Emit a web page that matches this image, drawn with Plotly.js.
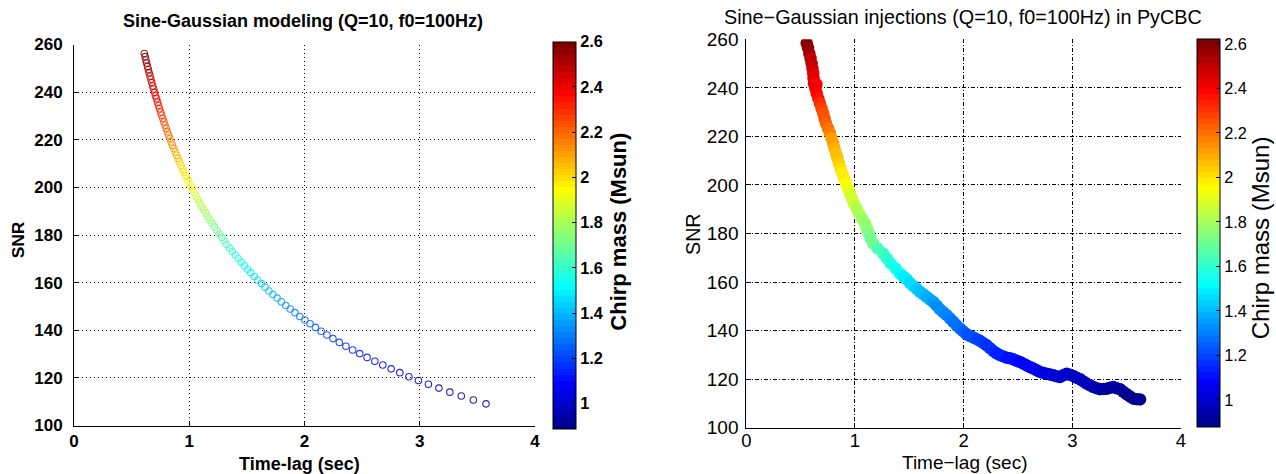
<!DOCTYPE html>
<html><head><meta charset="utf-8">
<script src="https://cdn.plot.ly/plotly-3.0.1.min.js"></script>
<style>html,body{margin:0;padding:0;background:#fff;}#chart{width:1276px;height:474px;}</style>
</head><body><div id="chart"></div>
<script>
// ---------------- data ----------------
const leftChirpMass = [0.900,0.917,0.934,0.951,0.968,0.985,1.002,1.019,1.036,1.053,1.070,1.087,1.104,1.121,1.138,1.155,1.172,1.189,1.206,1.223,1.240,1.257,1.274,1.291,1.308,1.325,1.342,1.359,1.376,1.393,1.410,1.427,1.444,1.461,1.478,1.495,1.512,1.529,1.546,1.563,1.580,1.597,1.614,1.631,1.648,1.665,1.682,1.699,1.716,1.733,1.750,1.767,1.784,1.801,1.818,1.835,1.852,1.869,1.886,1.903,1.920,1.937,1.954,1.971,1.988,2.005,2.022,2.039,2.056,2.073,2.090,2.107,2.124,2.141,2.158,2.175,2.192,2.209,2.226,2.243,2.260,2.277,2.294,2.311,2.328,2.345,2.362,2.379,2.396,2.413,2.430,2.447,2.464,2.481,2.498,2.515,2.532,2.549,2.566,2.583,2.600];
const leftTimeLag = [3.575,3.465,3.360,3.261,3.166,3.075,2.989,2.906,2.827,2.752,2.679,2.610,2.543,2.479,2.418,2.359,2.302,2.247,2.195,2.144,2.095,2.048,2.003,1.959,1.917,1.876,1.837,1.799,1.762,1.726,1.691,1.658,1.626,1.594,1.564,1.534,1.506,1.478,1.451,1.425,1.399,1.374,1.350,1.327,1.304,1.282,1.261,1.240,1.219,1.199,1.180,1.161,1.143,1.125,1.107,1.090,1.073,1.057,1.042,1.026,1.011,0.996,0.982,0.968,0.954,0.941,0.928,0.915,0.902,0.890,0.878,0.866,0.854,0.843,0.832,0.821,0.811,0.800,0.790,0.780,0.771,0.761,0.752,0.742,0.733,0.725,0.716,0.707,0.699,0.691,0.683,0.675,0.667,0.660,0.652,0.645,0.638,0.630,0.624,0.617,0.610];
const leftSNR = [109.1,110.7,112.4,114.0,115.7,117.3,118.9,120.5,122.2,123.8,125.4,127.0,128.6,130.2,131.7,133.3,134.9,136.5,138.0,139.6,141.2,142.7,144.3,145.8,147.4,148.9,150.4,152.0,153.5,155.0,156.5,158.1,159.6,161.1,162.6,164.1,165.6,167.1,168.6,170.1,171.6,173.1,174.5,176.0,177.5,179.0,180.4,181.9,183.4,184.8,186.3,187.7,189.2,190.6,192.1,193.5,195.0,196.4,197.9,199.3,200.7,202.2,203.6,205.0,206.4,207.8,209.3,210.7,212.1,213.5,214.9,216.3,217.7,219.1,220.5,221.9,223.3,224.7,226.1,227.5,228.9,230.3,231.6,233.0,234.4,235.8,237.2,238.5,239.9,241.3,242.6,244.0,245.4,246.7,248.1,249.4,250.8,252.2,253.5,254.9,256.2];

const rightTimeLag = [0.556,0.568,0.580,0.591,0.601,0.609,0.616,0.619,0.623,0.645,0.636,0.648,0.663,0.678,0.693,0.708,0.720,0.733,0.752,0.770,0.785,0.800,0.812,0.825,0.839,0.853,0.868,0.883,0.900,0.917,0.935,0.954,0.972,0.990,1.015,1.037,1.065,1.092,1.110,1.129,1.145,1.168,1.210,1.260,1.295,1.328,1.375,1.414,1.445,1.475,1.506,1.537,1.568,1.598,1.629,1.660,1.690,1.721,1.752,1.782,1.813,1.844,1.875,1.905,1.936,1.966,1.997,2.028,2.058,2.089,2.120,2.150,2.181,2.211,2.242,2.273,2.303,2.334,2.365,2.395,2.426,2.457,2.488,2.518,2.549,2.580,2.610,2.641,2.672,2.702,2.733,2.764,2.795,2.825,2.856,2.886,2.917,2.948,2.978,3.009,3.040,3.071,3.101,3.132,3.163,3.193,3.224,3.255,3.285,3.316,3.347,3.378,3.408,3.439,3.470,3.500,3.531,3.562,3.593,3.623];
const rightSNR = [258.4,256.4,254.2,252.2,250.1,248.0,246.0,244.0,241.9,241.5,239.8,237.7,235.6,233.6,231.5,229.5,227.4,225.4,223.3,221.3,219.2,217.1,215.0,213.0,211.0,208.9,206.8,204.8,202.7,200.6,198.5,196.5,194.5,192.4,190.3,188.3,186.2,184.2,182.1,180.0,177.9,175.9,173.8,171.8,169.7,167.7,165.6,163.5,162.3,161.2,159.6,158.4,157.2,156.0,155.0,153.9,152.8,151.8,150.3,148.8,147.6,146.4,145.0,143.6,142.2,140.9,139.7,138.5,137.8,137.2,136.5,135.8,134.9,134.0,132.8,131.6,130.7,129.9,129.4,128.9,128.6,128.2,127.6,127.1,126.4,125.7,125.0,124.4,123.7,123.0,122.6,122.3,121.9,121.6,121.2,120.9,121.6,122.3,121.8,121.3,120.6,120.0,119.1,118.2,117.5,116.8,116.3,115.9,116.0,116.1,116.5,116.8,116.3,115.9,114.8,113.8,112.9,112.0,111.8,111.7];
const rightChirpMass = [2.60,2.57,2.54,2.51,2.49,2.47,2.45,2.44,2.43,2.40,2.41,2.38,2.35,2.32,2.29,2.26,2.24,2.22,2.19,2.16,2.13,2.11,2.09,2.07,2.05,2.03,2.01,1.99,1.97,1.95,1.93,1.90,1.88,1.86,1.83,1.82,1.79,1.76,1.75,1.73,1.72,1.70,1.66,1.62,1.60,1.58,1.54,1.52,1.50,1.48,1.47,1.45,1.43,1.42,1.40,1.39,1.37,1.36,1.34,1.33,1.32,1.30,1.29,1.28,1.27,1.26,1.24,1.23,1.22,1.21,1.20,1.19,1.18,1.17,1.16,1.15,1.14,1.14,1.13,1.12,1.11,1.10,1.10,1.09,1.08,1.07,1.07,1.06,1.05,1.05,1.04,1.03,1.03,1.02,1.01,1.01,1.00,0.99,0.99,0.98,0.98,0.97,0.97,0.96,0.96,0.95,0.95,0.94,0.94,0.93,0.93,0.92,0.92,0.91,0.91,0.90,0.90,0.89,0.89,0.88];

const xTickVals = [0,1,2,3,4];
const yTickVals = [100,120,140,160,180,200,220,240,260];
const cbTickVals = [1,1.2,1.4,1.6,1.8,2,2.2,2.4,2.6];
const cbTickText = ['1','1.2','1.4','1.6','1.8','2','2.2','2.4','2.6'];
const leftCRange = [0.89, 2.601];
const rightCRange = [0.877, 2.621];

const leftTitle = 'Sine-Gaussian modeling (Q=10, f0=100Hz)';
const rightTitle = 'Sine\u2212Gaussian injections (Q=10, f0=100Hz) in PyCBC';
const leftXLabel = 'Time-lag (sec)';
const rightXLabel = 'Time\u2212lag (sec)';
const yLabel = 'SNR';
const cbLabel = 'Chirp mass (Msun)';

// ---------------- style ----------------
const W = 1276, H = 474;
const FAM = 'Liberation Sans, Arial, Helvetica, sans-serif';
function px(x){return x/W;}
function py(y){return 1-y/H;}

// MATLAB jet(64)
function jetColor(i){
  const u = j => j<=16 ? j/16 : (j<=31 ? 1 : (48-j)/16);
  const gi=i-8, ri=i-24, bi=i+8;
  const g=(gi>=1&&gi<=47)?u(gi):0;
  const r=(ri>=1&&ri<=47)?u(ri):0;
  const b=(bi>=1&&bi<=47)?u(bi):0;
  return 'rgb('+Math.round(r*255)+','+Math.round(g*255)+','+Math.round(b*255)+')';
}
const jet = [];
for(let k=0;k<64;k++){const c=jetColor(k+1);jet.push([k/64,c]);jet.push([(k+1)/64,c]);}

function cbar(xLeft, yTop, yBot, bold, tickSize){
  return {
    x: px(xLeft), xanchor:'left', xpad:0, ypad:0,
    y: py((yTop+yBot)/2), yanchor:'middle',
    len: (yBot-yTop)/H, lenmode:'fraction',
    thickness: 23, thicknessmode:'pixels',
    outlinewidth:1, outlinecolor:'#000', borderwidth:0,
    tickvals: cbTickVals, ticktext: cbTickText,
    ticks:'inside', ticklen:4, tickcolor:'#000',
    tickfont:{family:FAM, size:tickSize, color:'#000', weight: bold?'bold':'normal'},
    title:{text:''}
  };
}

const traces = [
  {
    type:'scatter', mode:'markers', x:leftTimeLag, y:leftSNR, xaxis:'x', yaxis:'y',
    marker:{symbol:'circle-open', size:6.5, opacity:0.85, line:{width:1.1},
      color:leftChirpMass, colorscale:jet, cmin:leftCRange[0], cmax:leftCRange[1],
      showscale:true, colorbar:cbar(553, 41.7, 428.3, true, 16.3)},
    hoverinfo:'skip', showlegend:false
  },
  {
    type:'scatter', mode:'markers', x:rightTimeLag, y:rightSNR, xaxis:'x2', yaxis:'y2',
    marker:{symbol:'circle', size:12.5, line:{width:0},
      color:rightChirpMass, colorscale:jet, cmin:rightCRange[0], cmax:rightCRange[1],
      showscale:true, colorbar:cbar(1197.3, 39.3, 427.3, false, 16.3)},
    hoverinfo:'skip', showlegend:false
  }
];

function axis(domain, range, tickvals, bold, size, dash, standoff){
  return {
    domain: domain, range: range, tickvals: tickvals, fixedrange:true,
    showgrid:true, gridcolor:'#000', gridwidth:1, griddash:dash,
    showline:true, linecolor:'#000', linewidth:1, mirror:false,
    zeroline:false, ticks:'inside', ticklen:5, tickcolor:'#000', tickwidth:1,
    ticklabelstandoff: standoff,
    tickfont:{family:FAM, size:size, color:'#000', weight: bold?'bold':'normal'},
    automargin:false
  };
}

function ann(text, x, y, size, bold, angle){
  return {text:text, x:px(x), y:py(y), xref:'paper', yref:'paper', showarrow:false,
    xanchor:'center', yanchor:'middle', textangle: angle||0,
    font:{family:FAM, size:size, color:'#000', weight: bold?'bold':'normal'}};
}

const layout = {
  width:W, height:H, margin:{l:0,r:0,t:0,b:0,pad:0},
  paper_bgcolor:'#fff', plot_bgcolor:'#fff', showlegend:false,
  xaxis: axis([px(74), px(535)], [0,4], xTickVals, true, 17, '1px,3px', 0),
  yaxis: axis([py(425.5), py(44.5)], [100,260], yTickVals, true, 17, '1px,3px', 7),
  xaxis2: axis([px(746.3), px(1181)], [0,4], xTickVals, false, 18.5, '4px,2px,1px,2px', -4),
  yaxis2: axis([py(427.8), py(39.3)], [100,260], yTickVals, false, 19, '4px,2px,1px,2px', 3),
  annotations: [
    ann(leftTitle, 302.5, 21.5, 18, true),
    ann(rightTitle, 963, 17, 19.8, false),
    ann(leftXLabel, 299.5, 463.5, 18, true),
    ann(rightXLabel, 964.5, 462.5, 19, false),
    ann(yLabel, 18.3, 240, 17.4, true, -90),
    ann(yLabel, 693, 234, 19.7, false, -90),
    ann(cbLabel, 619, 231.7, 22, true, -90),
    ann(cbLabel, 1260, 238.3, 24, false, -90)
  ]
};
layout.yaxis2.anchor='x2'; layout.xaxis2.anchor='y2';
layout.yaxis.anchor='x'; layout.xaxis.anchor='y';

Plotly.newPlot('chart', traces, layout, {staticPlot:true, displayModeBar:false});
</script></body></html>
